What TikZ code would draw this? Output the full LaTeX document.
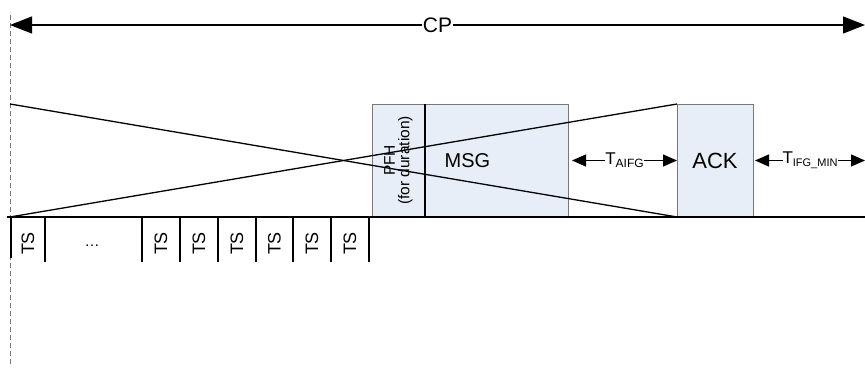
\documentclass[tikz,border=0pt]{standalone}
\usepackage{fontspec}
\setmainfont{Liberation Sans}
\usetikzlibrary{positioning,arrows.meta}

\definecolor{boxblue}{RGB}{232,238,247}
\definecolor{boxedge}{RGB}{120,120,120}
\newcommand{\fsz}[1]{\fontsize{#1}{#1}\selectfont}

\begin{document}
\begin{tikzpicture}[
    x=1pt,y=-1pt,
    >=Triangle,
    line width=1.3pt,
    frame/.style={draw=boxedge,line width=0.8pt,fill=boxblue,inner sep=0pt,outer sep=0pt,minimum height=113pt},
    bigtip/.style={{Triangle[length=22pt,width=17pt]}-{Triangle[length=22pt,width=17pt]}},
    gaptip/.style={{Triangle[length=14pt,width=12pt]}-{Triangle[length=14pt,width=12pt]}},
    tslabel/.style={rotate=90,font=\fsz{18},inner sep=0pt}
]
\useasboundingbox (0,0) rectangle (865,387);

% time origin
\coordinate (top) at (10,15);
\coordinate (bot) at (10,364);
\draw[dashed,dash pattern=on 5pt off 3pt,boxedge,line width=0.9pt] (top) -- (bot);

% contention period
\coordinate (cpl) at (10,25);
\coordinate (cpr) at (865,25);
\draw[bigtip]
(cpl) --
node[fill=white,inner sep=1pt,font=\fsz{21}]
{CP}
(cpr);

% frames
\node[frame,minimum width=53pt] (pfh) at (398.5,160.5) {};
\node[frame,minimum width=143pt,right=0pt of pfh] (msg) {};
\node[frame,minimum width=76pt] (ack) at (715,160.5) {};
\draw (pfh.north east) -- (pfh.south east);

\node[rotate=90,align=center,font=\fsz{15.5},inner sep=0pt] (pfhtext) at (pfh.center)
{PFH\\[-1pt](for duration)};
\node[anchor=west,font=\fsz{20},inner sep=0pt] (msgtext) at ([xshift=19pt]msg.west) {MSG};
\node[font=\fsz{22},inner sep=0pt] (acktext) at (ack.center) {ACK};

% crossing lines
\coordinate (hi) at (10,104);
\coordinate (lo) at (10,217);
\draw (hi) -- (ack.south west);
\draw (lo) -- (ack.north west);

% time axis
\coordinate (axl) at (7,217);
\coordinate (axr) at (865,217);
\draw (axl) -- (axr);

% gaps
\coordinate (gapl) at (572,160.5);
\draw[gaptip]
(gapl) --
node[fill=white,inner sep=0pt,font=\fsz{17}]
{T\raisebox{-0.3ex}{\fsz{12}AIFG}}
(ack.west);

\coordinate (ifgl) at (755,160.5);
\coordinate (ifgr) at (865,160.5);
\draw[gaptip]
(ifgl) --
node[fill=white,inner sep=0pt,font=\fsz{17}]
{T\raisebox{-0.3ex}{\fsz{11}IFG\_MIN}}
(ifgr);

% time slots
\draw (11,217) -- (11,258);
\foreach \x in {45,142,180,218,256,293,331,369}
    \draw (\x,217) -- (\x,262);
\foreach \x [count=\i] in {28,161,199,237,274.5,312,350}
    \node[tslabel] (ts\i) at (\x,243.5) {TS};
\node[font=\fsz{15},inner sep=0pt] (dots) at (92,246) {\dots};

\end{tikzpicture}
\end{document}
